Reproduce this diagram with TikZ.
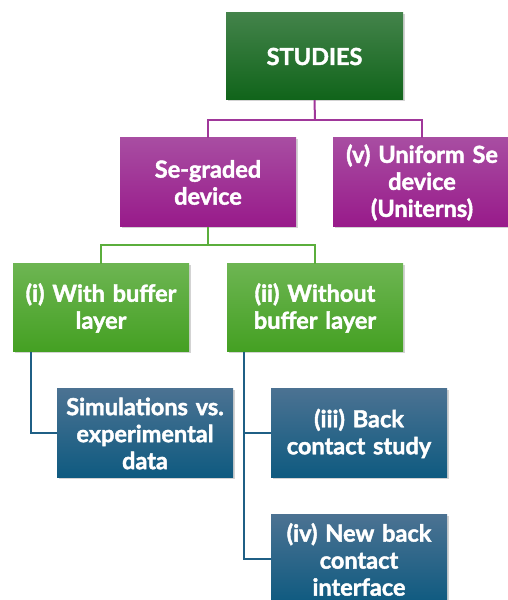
\documentclass[tikz,border=0pt]{standalone}
\usepackage{fontspec}
\setmainfont{Lato}[BoldFeatures={FakeBold=1.8}]
\usetikzlibrary{shadows}
\definecolor{dgTop}{HTML}{43834A}
\definecolor{dgBot}{HTML}{10641A}
\definecolor{puTop}{HTML}{A84DA2}
\definecolor{puBot}{HTML}{981A8A}
\definecolor{grTop}{HTML}{6DB552}
\definecolor{grBot}{HTML}{44A022}
\definecolor{blTop}{HTML}{4B7292}
\definecolor{blBot}{HTML}{0E5A80}
\definecolor{puLine}{HTML}{A0379A}
\definecolor{grLine}{HTML}{5BAE3C}
\definecolor{blLine}{HTML}{1F5F85}
\begin{document}
\begin{tikzpicture}[x=1pt,y=1pt,
  box/.style={rectangle, minimum width=176pt, minimum height=88pt, inner sep=1pt,
    text width=174pt, align=center, text=white, font=\bfseries\fontsize{23.5}{27}\selectfont,
    drop shadow={opacity=0.35, shadow xshift=1.5pt, shadow yshift=-1.5pt}},
  dgbox/.style={box, top color=dgTop, bottom color=dgBot},
  pubox/.style={box, top color=puTop, bottom color=puBot},
  grbox/.style={box, top color=grTop, bottom color=grBot},
  blbox/.style={box, top color=blTop, bottom color=blBot},
  pline/.style={draw=puLine, line width=2pt},
  gline/.style={draw=grLine, line width=2pt},
  bline/.style={draw=blLine, line width=2pt}]
\useasboundingbox (0,0) rectangle (508,600);
\clip (0,0) rectangle (508,600);
\node[dgbox, minimum width=177pt, minimum height=87pt] (studies) at (314.5,543.5) {STUDIES};
\node[pubox, minimum height=89pt] (seg) at (208,417.5) {Se-graded\\device};
\node[pubox, minimum width=178pt, minimum height=89pt] (uni) at (422,417.5) {(v) Uniform Se\\device\\(Uniterns)};
\node[grbox] (wb) at (101,292) {(i) With buffer\\layer};
\node[grbox] (wob) at (315,292) {(ii) Without\\buffer layer};
\node[blbox, minimum height=89pt] (sim) at (145,166.5) {Simulations vs.\\experimental\\data};
\node[blbox, minimum height=89pt] (bcs) at (359,166.5) {(iii) Back\\contact study};
\node[blbox, minimum height=89pt] (nbc) at (359,40.5) {(iv) New back\\contact\\interface};
\coordinate (pj) at (315,480);
\draw[pline] (studies.south) -- (pj);
\draw[pline] (pj) -| (seg.north);
\draw[pline] (pj) -| (uni.north);
\coordinate (gj) at (208,355);
\draw[gline] (seg.south) -- (gj);
\draw[gline] (gj) -| (wb.north);
\draw[gline] (gj) -| (wob.north);
\coordinate (bj1) at (31,248);
\draw[bline] (bj1) |- (sim.west);
\coordinate (bj2) at (244,248);
\draw[bline] (bj2) |- (bcs.west);
\draw[bline] (bj2) |- (nbc.west);
\end{tikzpicture}
\end{document}
